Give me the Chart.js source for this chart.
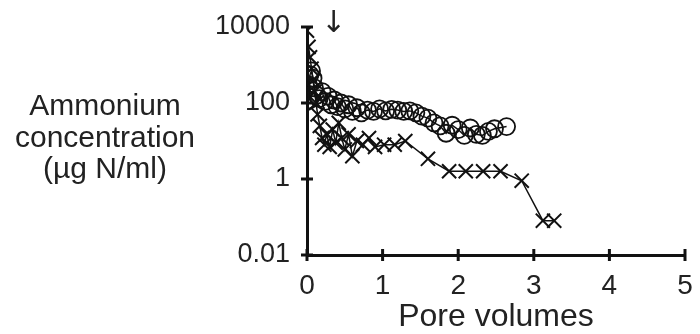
<!DOCTYPE html>
<html>
<head>
<meta charset="utf-8">
<script src="https://cdn.jsdelivr.net/npm/chart.js@4"></script>
<style>
  html, body { margin: 0; padding: 0; background: #fff; }
  #wrap { width: 700px; height: 334px; position: relative; }
</style>
</head>
<body>
<div id="wrap"><canvas id="leachChart"></canvas></div>
<script>
// circles
const poreCircle = [0.02, 0.03, 0.04, 0.06, 0.08, 0.1, 0.13, 0.16, 0.2, 0.24, 0.28, 0.32, 0.36, 0.4, 0.45, 0.5, 0.55, 0.6, 0.66, 0.72, 0.8, 0.88, 0.96, 1.04, 1.12, 1.2, 1.28, 1.36, 1.44, 1.52, 1.6, 1.68, 1.76, 1.84, 1.92, 2.0, 2.08, 2.16, 2.24, 2.32, 2.4, 2.48, 2.64];
const ammoniumCircle = [300, 120, 560, 700, 450, 250, 160, 130, 200, 110, 150, 90, 120, 80, 100, 70, 90, 60, 75, 55, 65, 60, 70, 62, 68, 65, 60, 62, 55, 45, 40, 30, 25, 16, 26, 20, 14, 22, 15, 14, 18, 21, 24];

// crosses
const poreCross = [0.0, 0.02, 0.04, 0.06, 0.08, 0.1, 0.12, 0.14, 0.17, 0.2, 0.23, 0.26, 0.3, 0.34, 0.38, 0.42, 0.46, 0.5, 0.55, 0.6, 0.66, 0.74, 0.82, 0.9, 1.02, 1.16, 1.3, 1.6, 1.88, 2.1, 2.33, 2.56, 2.84, 3.12, 3.27];
const ammoniumCross = [8000, 3000, 1600, 800, 400, 200, 100, 50, 25, 12, 8, 15, 7, 20, 9, 30, 12, 6, 15, 4, 10, 8, 12, 7, 8, 8, 10, 3.4, 1.6, 1.6, 1.6, 1.6, 0.9, 0.08, 0.08];

const xTicks = [0, 1, 2, 3, 4, 5];
const yTicks = [0.01, 1, 100, 10000];
const yTickLabels = ['0.01', '1', '100', '10000'];
const yTitleLines = ['Ammonium', 'concentration', '(µg N/ml)'];
const arrowPore = 0.35;

const FONT = '"Liberation Sans", Arial, Helvetica, sans-serif';

function toPoints(xs, ys) {
    return xs.map((x, i) => ({ x: x, y: ys[i] }));
}

// tick marks crossing both axes, the left-side title and the arrow
const axisDecor = {
    id: 'axisDecor',
    afterDraw(chart) {
        const ctx = chart.ctx;
        const xs = chart.scales.x;
        const ys = chart.scales.y;
        const area = chart.chartArea;
        ctx.save();
        ctx.strokeStyle = '#111';
        ctx.lineWidth = 3;
        xTicks.forEach(v => {
            const px = xs.getPixelForValue(v);
            ctx.beginPath();
            ctx.moveTo(px, area.bottom - 6);
            ctx.lineTo(px, area.bottom + 6);
            ctx.stroke();
        });
        yTicks.forEach(v => {
            const py = ys.getPixelForValue(v);
            ctx.beginPath();
            ctx.moveTo(area.left - 6, py);
            ctx.lineTo(area.left + 6, py);
            ctx.stroke();
        });

        ctx.fillStyle = '#222';
        ctx.font = '30px ' + FONT;
        ctx.textAlign = 'center';
        ctx.textBaseline = 'alphabetic';
        yTitleLines.forEach((line, i) => {
            ctx.fillText(line, 105, 115 + i * 31.5);
        });

        ctx.font = '30px "DejaVu Sans", sans-serif';
        ctx.textBaseline = 'top';
        ctx.fillText('↓', xs.getPixelForValue(arrowPore), area.top - 18);
        ctx.restore();
    }
};

const ctx = document.getElementById('leachChart').getContext('2d');
const chart = new Chart(ctx, {
    type: 'scatter',
    data: {
        datasets: [
            {
                label: 'O',
                data: toPoints(poreCircle, ammoniumCircle),
                showLine: true,
                borderColor: '#111',
                borderWidth: 1.5,
                backgroundColor: 'rgba(0,0,0,0)',
                pointStyle: 'circle',
                pointRadius: 8.5,
                pointBorderWidth: 1.8,
                pointBorderColor: '#111',
                pointBackgroundColor: 'rgba(0,0,0,0)'
            },
            {
                label: 'X',
                data: toPoints(poreCross, ammoniumCross),
                showLine: true,
                borderColor: '#111',
                borderWidth: 1.5,
                backgroundColor: 'rgba(0,0,0,0)',
                pointStyle: 'crossRot',
                pointRadius: 10,
                pointBorderWidth: 2,
                pointBorderColor: '#111'
            }
        ]
    },
    options: {
        responsive: true,
        maintainAspectRatio: false,
        animation: false,
        events: [],
        layout: {
            padding: { top: 27, right: 15, left: 0, bottom: 0 }
        },
        plugins: {
            legend: { display: false },
            tooltip: { enabled: false }
        },
        scales: {
            x: {
                type: 'linear',
                min: 0,
                max: 5,
                afterBuildTicks: scale => {
                    scale.ticks = xTicks.map(v => ({ value: v }));
                },
                afterFit: scale => {
                    scale.height = 79;
                    scale.paddingLeft = 0;
                    scale.paddingRight = 0;
                },
                grid: { display: false, drawTicks: false },
                border: { display: true, color: '#111', width: 3 },
                ticks: {
                    color: '#222',
                    padding: 14,
                    font: { family: FONT, size: 28 },
                    maxRotation: 0
                },
                title: {
                    display: true,
                    text: 'Pore volumes',
                    color: '#222',
                    font: { family: FONT, size: 32 },
                    padding: { top: 0, bottom: -2 }
                }
            },
            y: {
                type: 'logarithmic',
                min: 0.01,
                max: 10000,
                afterBuildTicks: scale => {
                    scale.ticks = yTicks.map(v => ({ value: v }));
                },
                afterFit: scale => {
                    scale.width = 307;
                    scale.paddingTop = 0;
                    scale.paddingBottom = 0;
                },
                grid: { display: false, drawTicks: false },
                border: { display: true, color: '#111', width: 3 },
                ticks: {
                    color: '#222',
                    padding: 17,
                    font: { family: FONT, size: 27 },
                    callback: (value) => {
                        const i = yTicks.indexOf(value);
                        return i >= 0 ? yTickLabels[i] : '';
                    }
                }
            }
        }
    },
    plugins: [axisDecor]
});
</script>
</body>
</html>
